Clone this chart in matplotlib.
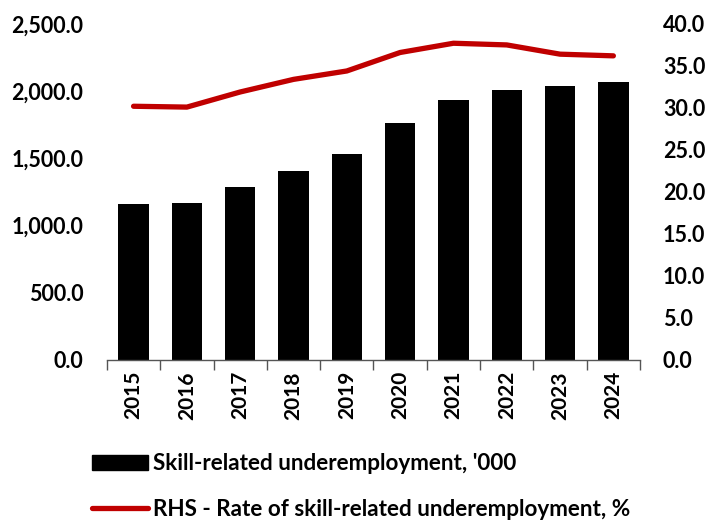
import matplotlib
matplotlib.use("Agg")
import matplotlib.pyplot as plt
from matplotlib.ticker import FuncFormatter
from matplotlib.patches import Patch
from matplotlib.lines import Line2D

years = ["2015", "2016", "2017", "2018", "2019", "2020", "2021", "2022", "2023", "2024"]
underemployment_000 = [1163, 1168, 1287, 1403, 1533, 1763, 1937, 2009, 2039, 2068]
rate_pct = [30.2, 30.1, 31.9, 33.4, 34.4, 36.6, 37.7, 37.5, 36.4, 36.2]

bar_label = "Skill-related underemployment, '000"
line_label = "RHS - Rate of skill-related underemployment, %"

plt.rcParams['font.family'] = ['Lato', 'DejaVu Sans']
plt.rcParams['font.weight'] = 'bold'
FS_Y = 15.5
FS_X = 15
FS_L = 16.2

fig = plt.figure(figsize=(7.08, 5.2), dpi=100)
ax = fig.add_axes([0.151, 0.3077, 0.753, 0.6463])
ax2 = ax.twinx()

x = list(range(len(years)))
ax.bar(x, underemployment_000, width=0.57, color='black', zorder=2)
ax2.plot(x, rate_pct, color='#C00000', linewidth=3.8, solid_capstyle='round', zorder=3)

ax.set_xlim(-0.5, len(years) - 0.5)
ax.set_ylim(0, 2500)
ax2.set_ylim(0, 40)
ax.set_yticks([0, 500, 1000, 1500, 2000, 2500])
ax2.set_yticks([0, 5, 10, 15, 20, 25, 30, 35, 40])
ax.yaxis.set_major_formatter(FuncFormatter(lambda v, p: f"{v:,.1f}"))
ax2.yaxis.set_major_formatter(FuncFormatter(lambda v, p: f"{v:.1f}"))

ax.set_xticks(x)
ax.set_xticklabels(years, rotation=90, fontsize=FS_X, fontweight='bold')
ax.set_xticks([i - 0.5 for i in range(len(years) + 1)], minor=True)
ax.tick_params(axis='x', which='major', length=0, pad=8)
ax.tick_params(axis='x', which='minor', length=7, width=1, color='#555555', direction='out')
ax.tick_params(axis='y', length=0, labelsize=FS_Y, pad=17)
ax2.tick_params(axis='y', length=0, labelsize=FS_Y, pad=16.5)
for lab in ax.get_yticklabels() + ax2.get_yticklabels():
    lab.set_fontweight('bold')

for a in (ax, ax2):
    for s in ('top', 'left', 'right', 'bottom'):
        a.spines[s].set_visible(False)
ax.spines['bottom'].set_visible(True)
ax.spines['bottom'].set_color('#555555')
ax.spines['bottom'].set_linewidth(1)

handles = [Patch(facecolor='black', edgecolor='black'),
           Line2D([0], [0], color='#C00000', linewidth=3.8, solid_capstyle='round')]
fig.legend(handles, [bar_label, line_label], loc='upper left',
           bbox_to_anchor=(0.117, 0.146), frameon=False,
           prop={'size': FS_L, 'weight': 'bold'}, handlelength=2.5, handleheight=0.65,
           handletextpad=0.22, labelspacing=1.1, borderaxespad=0)

fig.savefig("out.png", dpi=100)
